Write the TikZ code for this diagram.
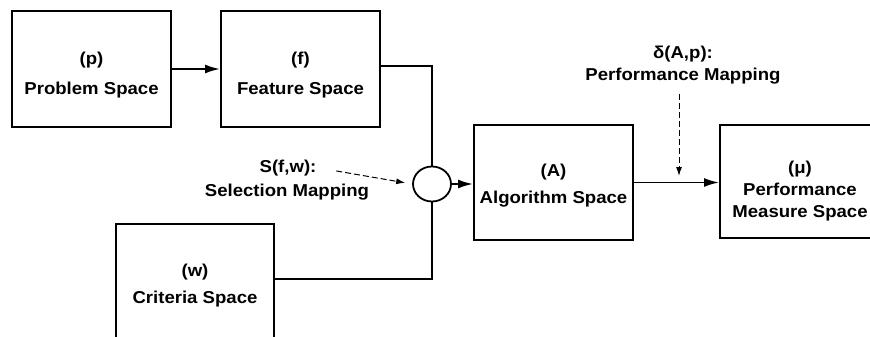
\documentclass[tikz,border=0pt]{standalone}
\usepackage{fontspec}
\setmainfont[FakeStretch=1.08]{Liberation Sans}
\usetikzlibrary{arrows.meta,shapes.geometric}
\begin{document}
\begin{tikzpicture}[x=1pt,y=-1pt,
  txt/.style={font=\fontsize{17.2}{27}\selectfont\bfseries,inner sep=0pt,anchor=base},
  boxtext/.style={txt,align=center},
  spacebox/.style={draw,line width=2pt,minimum width=159pt,minimum height=116pt,inner sep=0pt},
  junction/.style={draw,ellipse,line width=1.8pt,minimum width=38pt,minimum height=35pt,inner sep=0pt},
  flow/.style={line width=1.8pt,-{Latex[length=15pt,width=9pt]}},
  link/.style={line width=1.8pt},
  mapping/.style={line width=1pt,dash pattern=on 6pt off 3pt,-{Latex[length=9pt,width=6pt]}}
]
\useasboundingbox (0,0) rectangle (870,337);

% the five spaces
\node[spacebox] (prob) at (91.5,69) {};
\node[spacebox] (feat) at (300.5,69) {};
\node[spacebox,minimum width=158pt,minimum height=118pt] (crit) at (195,283) {};
\node[spacebox,minimum height=115pt] (alg) at (553.5,182.5) {};
\node[spacebox,minimum width=160pt,minimum height=113pt] (perf) at (800,181.5) {};

% their captions (anchored at the baseline of the last line)
\node[boxtext,font=\fontsize{17.2}{30}\selectfont\bfseries] (probtxt) at (prob.center |- 0,95) {(p)\\Problem Space};
\node[boxtext,font=\fontsize{17.2}{30}\selectfont\bfseries] (feattxt) at (feat.center |- 0,95) {(f)\\Feature Space};
\node[boxtext] (crittxt) at (crit.center |- 0,303.5) {(w)\\Criteria Space};
\node[boxtext] (algtxt) at (alg.center |- 0,203.5) {(A)\\Algorithm Space};
\node[boxtext,font=\fontsize{17.2}{22}\selectfont\bfseries] (perftxt) at (perf.center |- 0,217) {(μ)\\Performance\\Measure Space};

% selection junction
\node[junction] (sel) at (432,184) {};

% mapping labels
\node[txt] (sname) at (288,172) {S(f,w):};
\node[txt] (smap) at (287,196) {Selection Mapping};
\node[txt] (dname) at (683,59) {δ(A,p):};
\node[txt] (dmap) at (683,81) {Performance Mapping};
\coordinate (dtip) at (679,176);

% solid connectors
\draw[flow] (prob.east) -- (feat.west);
\draw[link] ([yshift=3pt]feat.east) -| (sel.north);
\draw[link] ([yshift=4pt]crit.east) -| (sel.south);
\draw[flow] (sel.east) -- (sel.east -| alg.west);
\draw[flow] (alg.east) -- (alg.east -| perf.west);

% dashed mapping arrows
\draw[mapping,shorten <=20pt,shorten >=7pt] (sname.east) -- (sel.west);
\draw[mapping,shorten <=9pt] (dtip |- dmap.south) -- (dtip);
\end{tikzpicture}
\end{document}
